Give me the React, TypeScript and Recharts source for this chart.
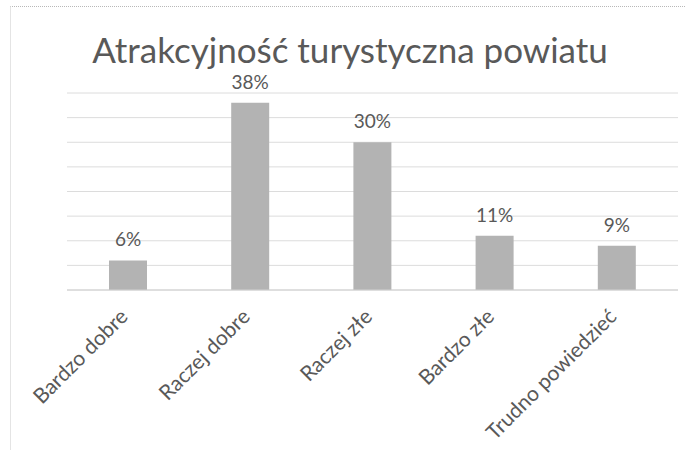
import React from "react";
import { BarChart, Bar, XAxis, YAxis, CartesianGrid, LabelList } from "recharts";

const categories = ["Bardzo dobre", "Raczej dobre", "Raczej złe", "Bardzo złe", "Trudno powiedzieć"];
const shares = [6, 38, 30, 11, 9];
const yTicks = [0, 5, 10, 15, 20, 25, 30, 35, 40];

const data = categories.map((name, i) => ({ name, value: shares[i] }));

const FONT = "Lato, 'Open Sans', sans-serif";

const SlantTick = (props: any) => {
	const { x, y, payload } = props;
	const ax = x + 1;
	const ay = y + 20;
	return (
		<text
			x={ax}
			y={ay}
			transform={`rotate(-45, ${ax}, ${ay})`}
			textAnchor="end"
			fill="#595959"
			fontSize={21}
			fontFamily={FONT}
		>
			{payload.value}
		</text>
	);
};

export default function App() {
	return (
		<div style={{ position: "absolute", left: 0, top: 0, width: 685, height: 450, background: "#fff" }}>
			<div
				style={{
					position: "absolute",
					left: 10,
					top: 6,
					right: 0,
					bottom: 0,
					borderTop: "1px dotted #b8b8b8",
					borderLeft: "1px solid #e4e4e4",
				}}
			/>
			<BarChart
				width={685}
				height={450}
				data={data}
				margin={{ top: 93, right: 7, bottom: 10, left: 67 }}
				barSize={38}
			>
				<CartesianGrid vertical={false} stroke="#dcdcdc" />
				<YAxis hide domain={[0, 40]} ticks={yTicks} />
				<XAxis
					dataKey="name"
					height={150}
					interval={0}
					tickLine={false}
					axisLine={{ stroke: "#d0d0d0" }}
					tick={<SlantTick />}
				/>
				<Bar dataKey="value" fill="#b3b3b3" isAnimationActive={false}>
					<LabelList
						dataKey="value"
						position="top"
						offset={14}
						formatter={(v: any) => `${v}%`}
						fill="#595959"
						fontSize={19}
						fontFamily={FONT}
					/>
				</Bar>
			</BarChart>
			<svg width={685} height={450} style={{ position: "absolute", left: 0, top: 0, pointerEvents: "none" }}>
				<text x={350} y={63} textAnchor="middle" fill="#595959" fontSize={35} fontFamily={FONT}>
					Atrakcyjność turystyczna powiatu
				</text>
			</svg>
		</div>
	);
}
